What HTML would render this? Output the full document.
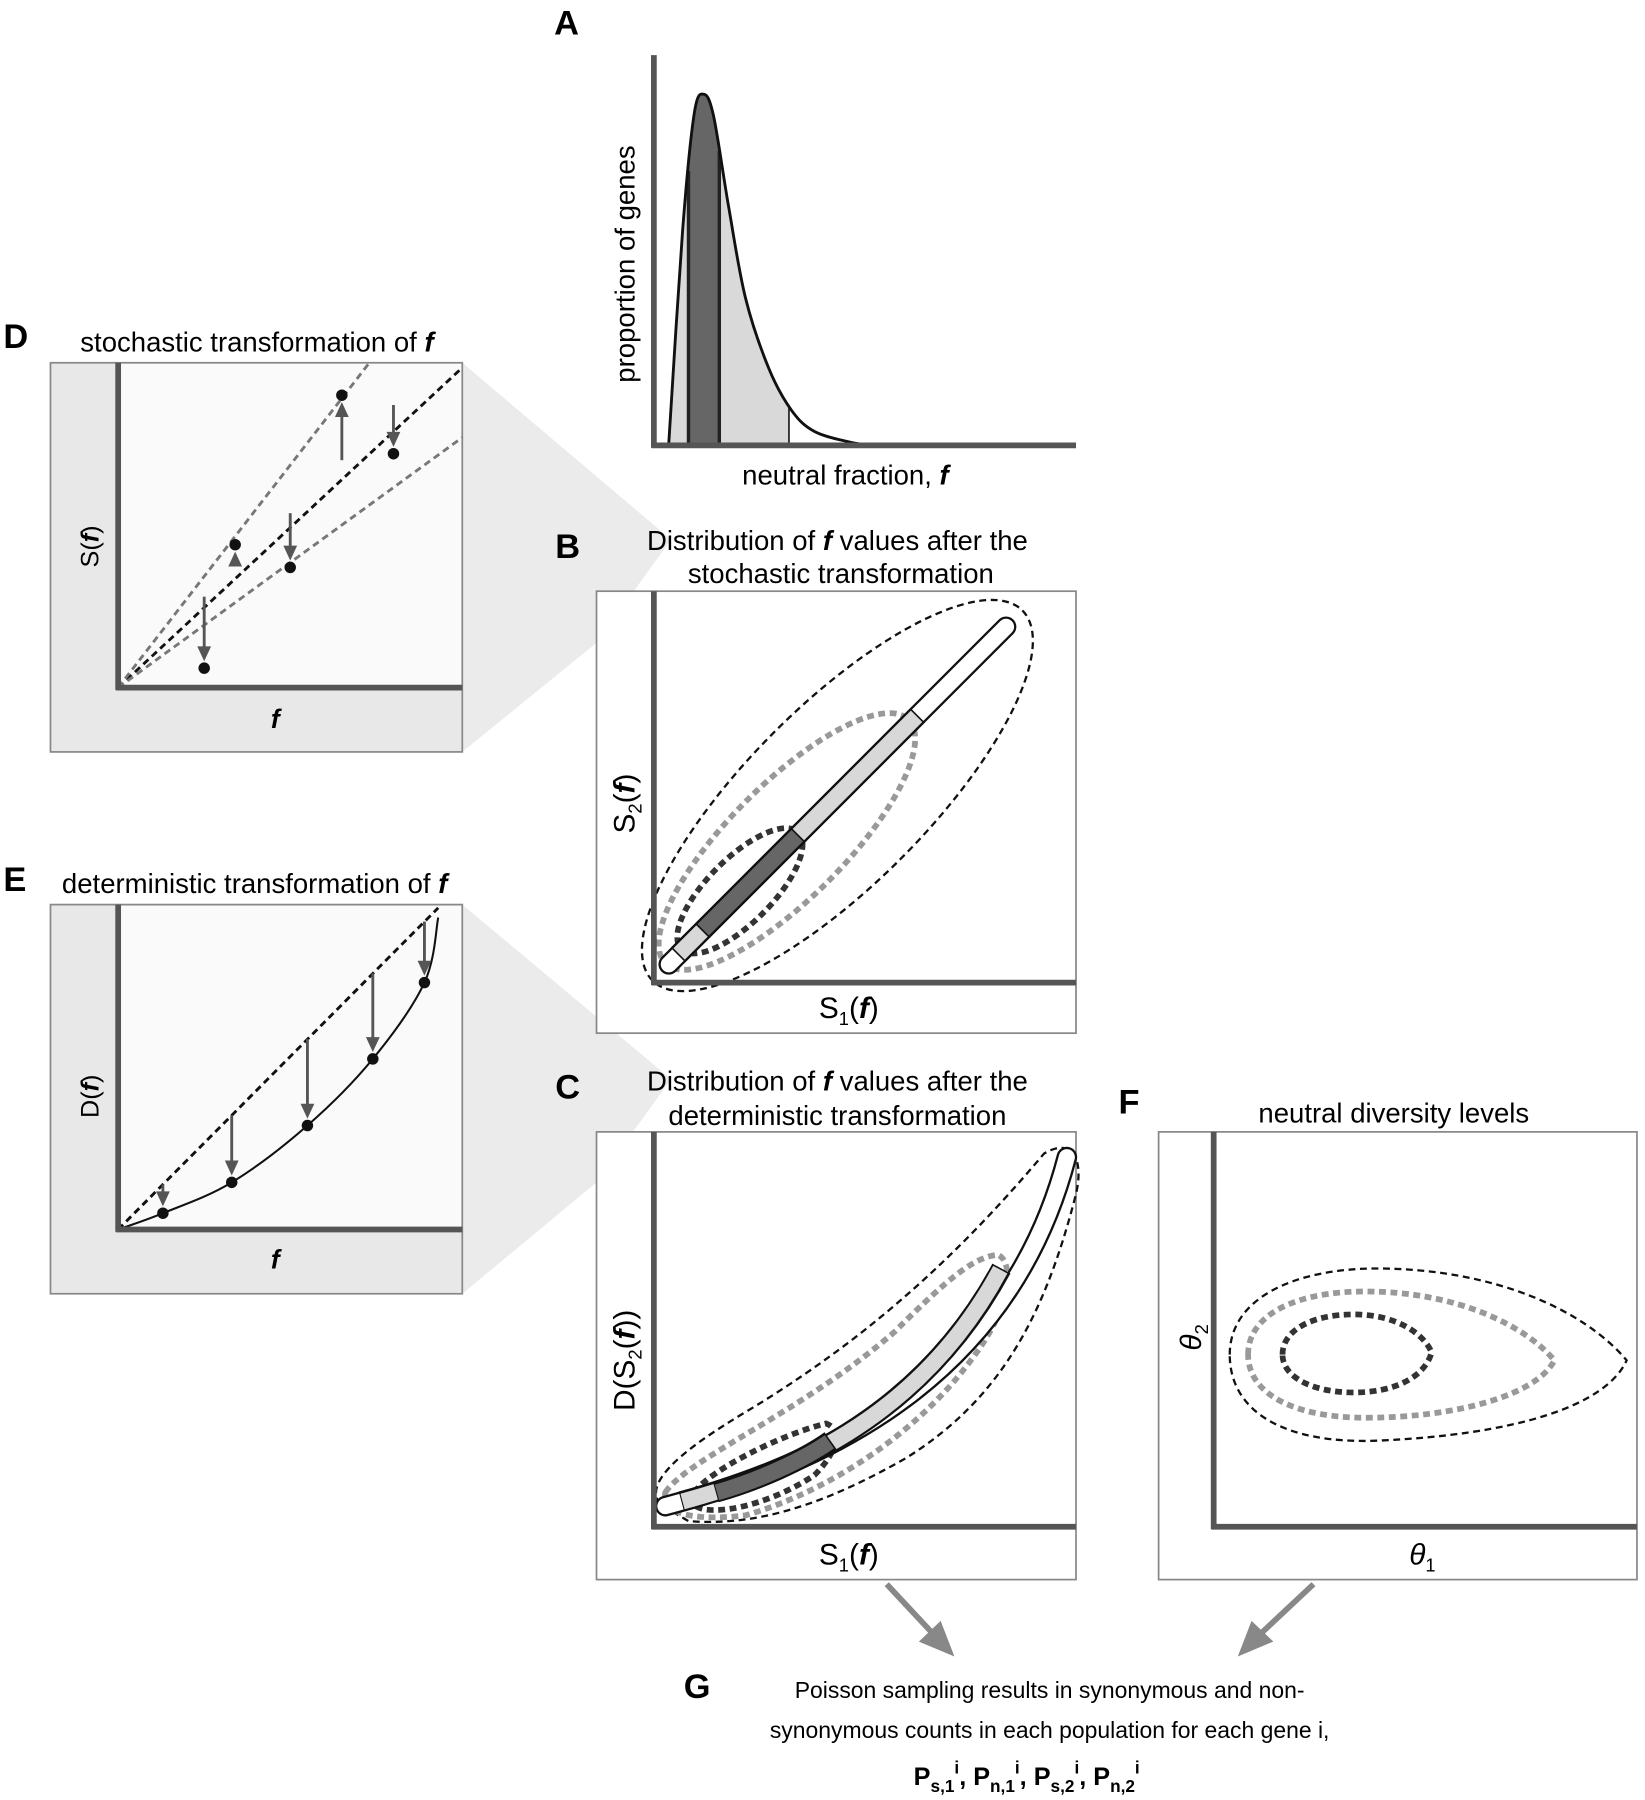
<!DOCTYPE html>
<html><head><meta charset="utf-8"><style>
html,body{margin:0;padding:0;background:#fff;}
svg{display:block;font-family:"Liberation Sans",Arial,sans-serif;}
</style></head><body>
<svg id="fig" width="1645" height="1800" viewBox="0 0 1434 1568" preserveAspectRatio="none" xmlns="http://www.w3.org/2000/svg">
<rect width="1434" height="1568" fill="#fff"/>
<!-- projection shading -->
<polygon points="403,316 585,470 520,560 403,655" fill="#ebebeb"/>
<polygon points="403,788 585,940 520,1030 403,1127" fill="#ebebeb"/>

<!-- Panel A -->
<text x="483" y="30" font-size="30" font-weight="bold">A</text>
<g id="panelA"></g>
<text transform="translate(553,230) rotate(-90)" text-anchor="middle" font-size="24">proportion of genes</text>
<text x="737" y="422" text-anchor="middle" font-size="24">neutral fraction, <tspan font-weight="bold" font-style="italic">f</tspan></text>

<!-- Panel D -->
<text x="3" y="303" font-size="30" font-weight="bold">D</text>
<text x="224" y="306" text-anchor="middle" font-size="24">stochastic transformation of <tspan font-weight="bold" font-style="italic">f</tspan></text>
<rect x="44" y="316" width="359" height="339" fill="#e8e8e8" stroke="#888" stroke-width="1.5"/>
<rect x="103" y="317" width="299" height="282" fill="#fafafa"/>
<g id="panelD"></g>
<text transform="translate(86,476) rotate(-90)" text-anchor="middle" font-size="22">S(<tspan font-weight="bold" font-style="italic">f</tspan>)</text>
<text x="240" y="634" text-anchor="middle" font-size="23" font-weight="bold" font-style="italic">f</text>

<!-- Panel E -->
<text x="3" y="776" font-size="30" font-weight="bold">E</text>
<text x="222" y="778" text-anchor="middle" font-size="24">deterministic transformation of <tspan font-weight="bold" font-style="italic">f</tspan></text>
<rect x="44" y="788" width="359" height="339" fill="#e8e8e8" stroke="#888" stroke-width="1.5"/>
<rect x="103" y="789" width="299" height="282" fill="#fafafa"/>
<g id="panelE"></g>
<text transform="translate(86,955) rotate(-90)" text-anchor="middle" font-size="22">D(<tspan font-weight="bold" font-style="italic">f</tspan>)</text>
<text x="240" y="1105" text-anchor="middle" font-size="23" font-weight="bold" font-style="italic">f</text>

<!-- Panel B -->
<text x="484" y="486" font-size="30" font-weight="bold">B</text>
<text x="730" y="479" text-anchor="middle" font-size="24">Distribution of <tspan font-weight="bold" font-style="italic">f</tspan> values after the</text>
<text x="733" y="508" text-anchor="middle" font-size="24">stochastic transformation</text>
<rect x="520" y="515" width="418" height="385" fill="#fff" stroke="#888" stroke-width="1.5"/>
<g>
 <ellipse cx="730" cy="693" rx="228" ry="78" transform="rotate(-45 730 693)" fill="none" stroke="#111" stroke-width="2" stroke-dasharray="6,4"/>
 <ellipse cx="686" cy="733" rx="150" ry="50" transform="rotate(-45 686 733)" fill="none" stroke="#999" stroke-width="5" stroke-dasharray="6,4"/>
 <ellipse cx="645" cy="776" rx="72" ry="28" transform="rotate(-45 645 776)" fill="none" stroke="#333" stroke-width="5" stroke-dasharray="6,4"/>
 <line x1="583" y1="840" x2="877" y2="546" stroke="#111" stroke-width="18" stroke-linecap="round"/>
 <line x1="583" y1="840" x2="877" y2="546" stroke="#fff" stroke-width="14" stroke-linecap="round"/>
 <line x1="591" y1="832" x2="800" y2="623" stroke="#111" stroke-width="18"/>
 <line x1="592" y1="831" x2="799" y2="624" stroke="#d8d8d8" stroke-width="14"/>
 <line x1="612" y1="811" x2="696" y2="727" stroke="#111" stroke-width="18"/>
 <line x1="613" y1="810" x2="695" y2="728" stroke="#666" stroke-width="14"/>
</g>
<line x1="570" y1="515" x2="570" y2="858" stroke="#555" stroke-width="5"/>
<line x1="568" y1="856" x2="938" y2="856" stroke="#555" stroke-width="5"/>
<text transform="translate(553,700) rotate(-90)" text-anchor="middle" font-size="26">S<tspan font-size="16" dy="6">2</tspan><tspan dy="-6">(</tspan><tspan font-weight="bold" font-style="italic">f</tspan>)</text>
<text x="740" y="887" text-anchor="middle" font-size="26">S<tspan font-size="16" dy="6">1</tspan><tspan dy="-6">(</tspan><tspan font-weight="bold" font-style="italic">f</tspan>)</text>

<!-- Panel C -->
<text x="484" y="957" font-size="30" font-weight="bold">C</text>
<text x="730" y="950" text-anchor="middle" font-size="24">Distribution of <tspan font-weight="bold" font-style="italic">f</tspan> values after the</text>
<text x="730" y="980" text-anchor="middle" font-size="24">deterministic transformation</text>
<rect x="520" y="986" width="418" height="390" fill="#fff" stroke="#888" stroke-width="1.5"/>
<g fill="none">
 <path d="M575,1310 C560,1290 600,1260 650,1230 C750,1170 830,1100 910,1005 C935,990 945,1010 938,1040 C910,1150 870,1220 790,1270 C720,1310 660,1330 600,1325 Z" stroke="#111" stroke-width="2" stroke-dasharray="6,4"/>
 <path d="M580,1300 C600,1270 700,1230 780,1160 C830,1110 850,1095 870,1093 C885,1100 880,1140 850,1180 C800,1250 720,1300 650,1320 C610,1325 575,1320 580,1300 Z" stroke="#999" stroke-width="5" stroke-dasharray="6,4"/>
 <path d="M605,1300 C620,1280 680,1250 720,1240 C735,1245 730,1265 710,1285 C680,1305 640,1318 615,1315 C600,1312 600,1305 605,1300 Z" stroke="#333" stroke-width="5" stroke-dasharray="6,4"/>
 <path d="M580,1312 C720,1275 880,1200 930,1008" stroke="#111" stroke-width="18" stroke-linecap="round"/>
 <path d="M580,1312 C720,1275 880,1200 930,1008" stroke="#fff" stroke-width="14" stroke-linecap="round"/>
 <path d="M594,1308 C680,1285 800,1240 873,1105" stroke="#111" stroke-width="18"/>
 <path d="M595,1308 C680,1285 800,1240 872,1106" stroke="#d8d8d8" stroke-width="14"/>
 <path d="M624,1300 C660,1290 700,1272 724,1255" stroke="#111" stroke-width="18"/>
 <path d="M625,1300 C660,1290 700,1272 723,1256" stroke="#666" stroke-width="14"/>
</g>
<line x1="570" y1="986" x2="570" y2="1332" stroke="#555" stroke-width="5"/>
<line x1="568" y1="1330" x2="938" y2="1330" stroke="#555" stroke-width="5"/>
<text transform="translate(553,1185) rotate(-90)" text-anchor="middle" font-size="26">D(S<tspan font-size="16" dy="6">2</tspan><tspan dy="-6">(</tspan><tspan font-weight="bold" font-style="italic">f</tspan>))</text>
<text x="740" y="1363" text-anchor="middle" font-size="26">S<tspan font-size="16" dy="6">1</tspan><tspan dy="-6">(</tspan><tspan font-weight="bold" font-style="italic">f</tspan>)</text>

<!-- Panel F -->
<text x="975" y="970" font-size="30" font-weight="bold">F</text>
<text x="1215" y="978" text-anchor="middle" font-size="24">neutral diversity levels</text>
<rect x="1010" y="986" width="417" height="390" fill="#fff" stroke="#888" stroke-width="1.5"/>
<g fill="none">
 <path d="M1072,1180 C1072,1130 1130,1105 1200,1105 C1300,1105 1380,1140 1418,1185 C1400,1225 1320,1250 1200,1255 C1120,1258 1072,1230 1072,1180 Z" stroke="#111" stroke-width="2" stroke-dasharray="6,4"/>
 <path d="M1088,1180 C1088,1145 1130,1125 1190,1125 C1270,1125 1330,1155 1355,1185 C1340,1215 1270,1235 1190,1235 C1130,1235 1088,1215 1088,1180 Z" stroke="#999" stroke-width="5" stroke-dasharray="6,4"/>
 <path d="M1118,1180 C1118,1158 1145,1145 1180,1145 C1215,1145 1240,1160 1248,1178 C1242,1200 1215,1213 1180,1213 C1145,1213 1118,1200 1118,1180 Z" stroke="#333" stroke-width="5" stroke-dasharray="6,4"/>
</g>
<line x1="1058" y1="986" x2="1058" y2="1332" stroke="#555" stroke-width="5"/>
<line x1="1056" y1="1330" x2="1427" y2="1330" stroke="#555" stroke-width="5"/>
<text transform="translate(1047,1165) rotate(-90)" text-anchor="middle" font-size="26" font-style="italic">θ<tspan font-size="16" dy="6" font-style="normal">2</tspan></text>
<text x="1240" y="1363" text-anchor="middle" font-size="26" font-style="italic">θ<tspan font-size="16" dy="6" font-style="normal">1</tspan></text>

<!-- Arrows to G -->
<g stroke="#888" fill="#888">
 <line x1="773" y1="1380" x2="815" y2="1425" stroke-width="5"/>
 <polygon points="832,1443 801,1430 820,1412" stroke="none"/>
 <line x1="1145" y1="1380" x2="1097" y2="1425" stroke-width="5"/>
 <polygon points="1079,1443 1091,1412 1110,1430" stroke="none"/>
</g>

<!-- Panel G -->
<text x="596" y="1479" font-size="30" font-weight="bold">G</text>
<text x="915" y="1479" text-anchor="middle" font-size="20">Poisson sampling results in synonymous and non-</text>
<text x="915" y="1514" text-anchor="middle" font-size="20">synonymous counts in each population for each gene i,</text>
<text x="895" y="1555" text-anchor="middle" font-size="22" font-weight="bold">P<tspan font-size="15" dy="6">s,1</tspan><tspan font-size="15" dy="-16">i</tspan><tspan dy="10">, P</tspan><tspan font-size="15" dy="6">n,1</tspan><tspan font-size="15" dy="-16">i</tspan><tspan dy="10">, P</tspan><tspan font-size="15" dy="6">s,2</tspan><tspan font-size="15" dy="-16">i</tspan><tspan dy="10">, P</tspan><tspan font-size="15" dy="6">n,2</tspan><tspan font-size="15" dy="-16">i</tspan></text>
</svg>
<script>
// Panel A data
const aF = [0.035,0.068,0.095,0.117,0.141,0.177,0.217,0.272,0.326,0.38,0.462,0.516];
const aDensity = [0,0.61,0.94,1,0.94,0.68,0.42,0.22,0.1,0.04,0.01,0];
const aDarkBand = [0.082,0.155];
const aLightBand = [0.035,0.32];
// Panel D data
const dF = [0.25,0.34,0.5,0.65,0.8];
const dSbefore = [0.28,0.385,0.537,0.70,0.87];
const dSafter = [0.06,0.44,0.37,0.90,0.72];
const dLineSlopes = [0.985,1.37,0.77];
// Panel E data
const eF = [0.13,0.33,0.55,0.74,0.89];
const eD = [0.05,0.145,0.32,0.525,0.76];

const NS='http://www.w3.org/2000/svg';
function mk(parent,tag,attrs){const e=document.createElementNS(NS,tag);for(const k in attrs)e.setAttribute(k,attrs[k]);parent.appendChild(e);return e;}
function spline(pts){let d='M'+pts[0][0]+','+pts[0][1];for(let i=0;i<pts.length-1;i++){const p0=pts[Math.max(0,i-1)],p1=pts[i],p2=pts[i+1],p3=pts[Math.min(pts.length-1,i+2)];const c1=[p1[0]+(p2[0]-p0[0])/6,p1[1]+(p2[1]-p0[1])/6],c2=[p2[0]-(p3[0]-p1[0])/6,p2[1]-(p3[1]-p1[1])/6];d+=' C'+c1+' '+c2+' '+p2;}return d;}
function interp(xs,ys,x){for(let i=0;i<xs.length-1;i++){if(x>=xs[i]&&x<=xs[i+1]){return ys[i]+(ys[i+1]-ys[i])*(x-xs[i])/(xs[i+1]-xs[i]);}}return 0;}

// Panel A
(function(){
 const g=document.getElementById('panelA');
 const X=v=>570+v*368, Y=v=>388-v*306;
 const pts=aF.map((f,i)=>[X(f),Y(aDensity[i])]);
 const d=spline(pts);
 const clipId='aclip';
 const cp=mk(g,'clipPath',{id:clipId});
 mk(cp,'path',{d:d+' L'+pts[0][0]+','+Y(0)+' Z'});
 const light=mk(g,'rect',{x:X(aLightBand[0]),y:60,width:X(aLightBand[1])-X(aLightBand[0]),height:330,fill:'#d9d9d9','clip-path':'url(#'+clipId+')'});
 
 
 const dark=mk(g,'rect',{x:X(aDarkBand[0]),y:60,width:X(aDarkBand[1])-X(aDarkBand[0]),height:330,fill:'#666','clip-path':'url(#'+clipId+')'});
 
 
 [aDarkBand[0],aDarkBand[1]].forEach(f=>{mk(g,'line',{x1:X(f),x2:X(f),y1:388,y2:Y(interp(aF,aDensity,f)),stroke:'#222','stroke-width':3});});
 mk(g,'line',{x1:X(aLightBand[1]),x2:X(aLightBand[1]),y1:388,y2:Y(interp(aF,aDensity,aLightBand[1])),stroke:'#222','stroke-width':1.5});
 const c=mk(g,'path',{d:d,fill:'none',stroke:'#111','stroke-width':2.5});
 
 
 mk(g,'line',{x1:570,y1:48,x2:570,y2:390,stroke:'#555','stroke-width':5});
 mk(g,'line',{x1:568,y1:388,x2:938,y2:388,stroke:'#555','stroke-width':5});
})();

function arrow(g,x,y1,y2){
 const dir=y2>y1?1:-1;
 mk(g,'line',{x1:x,y1:y1,x2:x,y2:y2-dir*10,stroke:'#555','stroke-width':2.5});
 mk(g,'polygon',{points:`${x},${y2} ${x-6},${y2-dir*13} ${x+6},${y2-dir*13}`,fill:'#555'});
}
// Panel D
(function(){
 const g=document.getElementById('panelD');
 const X=v=>103+v*300, Y=v=>599-v*283;
 const cols=['#111','#777','#777'];
 dLineSlopes.forEach((s,i)=>{
  let xe=1; if(s*xe>1) xe=1/s;
  const l=mk(g,'line',{x1:X(0),y1:Y(0),x2:X(xe),y2:Y(s*xe),stroke:cols[i],'stroke-width':2.5,'stroke-dasharray':'6,4'});
  
  
 });
 dF.forEach((f,i)=>{
  const yb=Y(dSbefore[i]), ya=Y(dSafter[i]);
  arrow(g,X(f),yb,ya+(ya>yb?-6:6));
  const p=mk(g,'circle',{cx:X(f),cy:ya,r:5,fill:'#111'});
  
  
 });
 mk(g,'line',{x1:103,y1:316,x2:103,y2:601,stroke:'#555','stroke-width':5});
 mk(g,'line',{x1:101,y1:599,x2:403,y2:599,stroke:'#555','stroke-width':5});
})();
// Panel E
(function(){
 const g=document.getElementById('panelE');
 const X=v=>103+v*300, Y=v=>1071-v*283;
 const dl=mk(g,'line',{x1:X(0),y1:Y(0),x2:X(0.93),y2:Y(0.99),stroke:'#111','stroke-width':2.5,'stroke-dasharray':'6,4'});
 
 
 const pts=[[X(0),Y(0)]].concat(eF.map((f,i)=>[X(f),Y(eD[i])]));
 pts.push([X(0.93),Y(0.96)]);
 const c=mk(g,'path',{d:spline(pts),fill:'none',stroke:'#111','stroke-width':1.8});
 
 
 eF.forEach((f,i)=>{
  const yb=Y(f*1.065), ya=Y(eD[i]);
  arrow(g,X(f),yb,ya-6);
  const p=mk(g,'circle',{cx:X(f),cy:ya,r:5,fill:'#111'});
  
  
 });
 mk(g,'line',{x1:103,y1:788,x2:103,y2:1073,stroke:'#555','stroke-width':5});
 mk(g,'line',{x1:101,y1:1071,x2:403,y2:1071,stroke:'#555','stroke-width':5});
})();
</script>
</body></html>
